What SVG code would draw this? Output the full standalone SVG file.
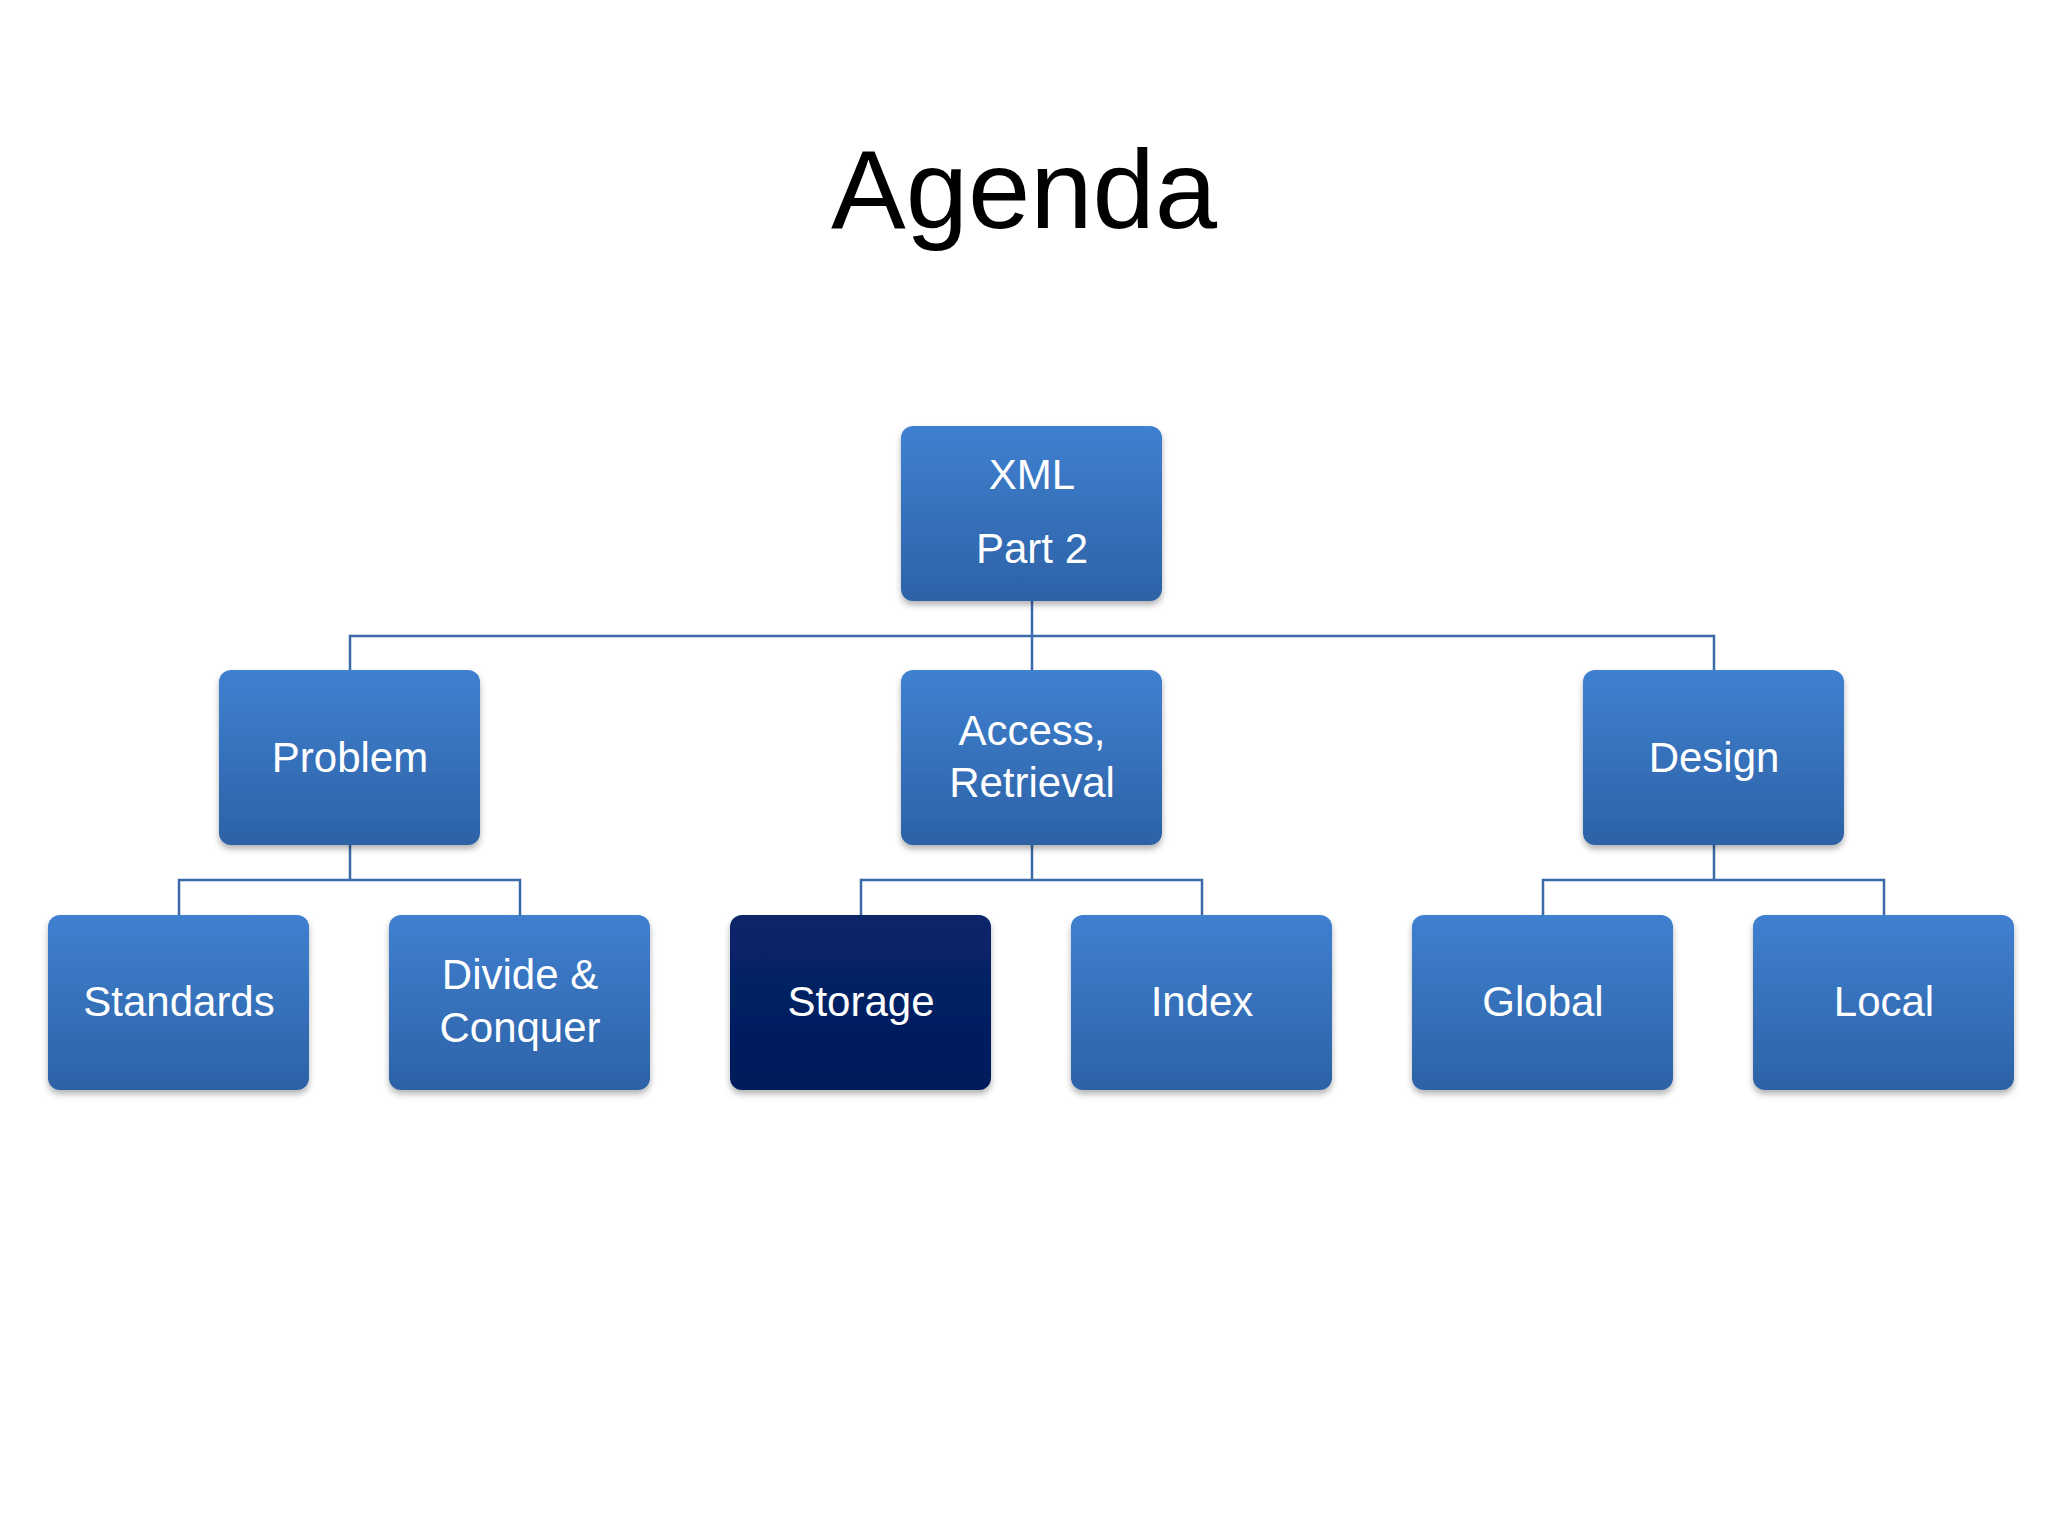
<svg xmlns="http://www.w3.org/2000/svg" width="2048" height="1536" viewBox="0 0 2048 1536">
<defs>
<linearGradient id="g" x1="0" y1="0" x2="0" y2="1"><stop offset="0" stop-color="#3f80d0"/><stop offset="1" stop-color="#2d62a6"/></linearGradient>
<linearGradient id="d" x1="0" y1="0" x2="0" y2="1"><stop offset="0" stop-color="#08256a"/><stop offset="1" stop-color="#031b5c"/></linearGradient>
<filter id="s" x="-10%" y="-10%" width="120%" height="130%"><feDropShadow dx="0" dy="4" stdDeviation="3" flood-color="#000" flood-opacity="0.3"/></filter>
<style>
.n{fill:url(#g);filter:url(#s)}
.dk{fill:url(#d);filter:url(#s)}
.t{font-family:"Liberation Sans",Arial,sans-serif;font-size:42px;fill:#fff;text-anchor:middle}
.c{fill:none;stroke:#3b6aa8;stroke-width:2.5}
</style>
</defs>
<rect width="2048" height="1536" fill="#fff"/>
<text x="1024" y="228" font-family="Liberation Sans,Arial,sans-serif" font-size="112" text-anchor="middle" fill="#000">Agenda</text>
<g id="connectors" class="c">
<path class="c" d="M1032 601V636M350 670V636H1714V670M1032 636V670"/>
<path class="c" d="M350 845V880M179 915V880H520V915"/>
<path class="c" d="M1032 845V880M861 915V880H1202V915"/>
<path class="c" d="M1714 845V880M1543 915V880H1884V915"/>
</g>
<g id="xml"><rect class="n" x="901" y="426" width="261" height="175" rx="12"/><text class="t" x="1032" y="489">XML</text><text class="t" x="1032" y="563">Part 2</text></g>
<g id="problem"><rect class="n" x="219" y="670" width="261" height="175" rx="12"/><text class="t" x="350" y="772">Problem</text></g>
<g id="access"><rect class="n" x="901" y="670" width="261" height="175" rx="12"/><text class="t" x="1032" y="745">Access,</text><text class="t" x="1032" y="797">Retrieval</text></g>
<g id="design"><rect class="n" x="1583" y="670" width="261" height="175" rx="12"/><text class="t" x="1714" y="772">Design</text></g>
<g id="standards"><rect class="n" x="48" y="915" width="261" height="175" rx="12"/><text class="t" x="179" y="1016">Standards</text></g>
<g id="divide"><rect class="n" x="389" y="915" width="261" height="175" rx="12"/><text class="t" x="520" y="989">Divide &amp;</text><text class="t" x="520" y="1042">Conquer</text></g>
<g id="storage"><rect class="dk" x="730" y="915" width="261" height="175" rx="12"/><text class="t" x="861" y="1016">Storage</text></g>
<g id="index"><rect class="n" x="1071" y="915" width="261" height="175" rx="12"/><text class="t" x="1202" y="1016">Index</text></g>
<g id="global"><rect class="n" x="1412" y="915" width="261" height="175" rx="12"/><text class="t" x="1543" y="1016">Global</text></g>
<g id="local"><rect class="n" x="1753" y="915" width="261" height="175" rx="12"/><text class="t" x="1884" y="1016">Local</text></g>
</svg>
